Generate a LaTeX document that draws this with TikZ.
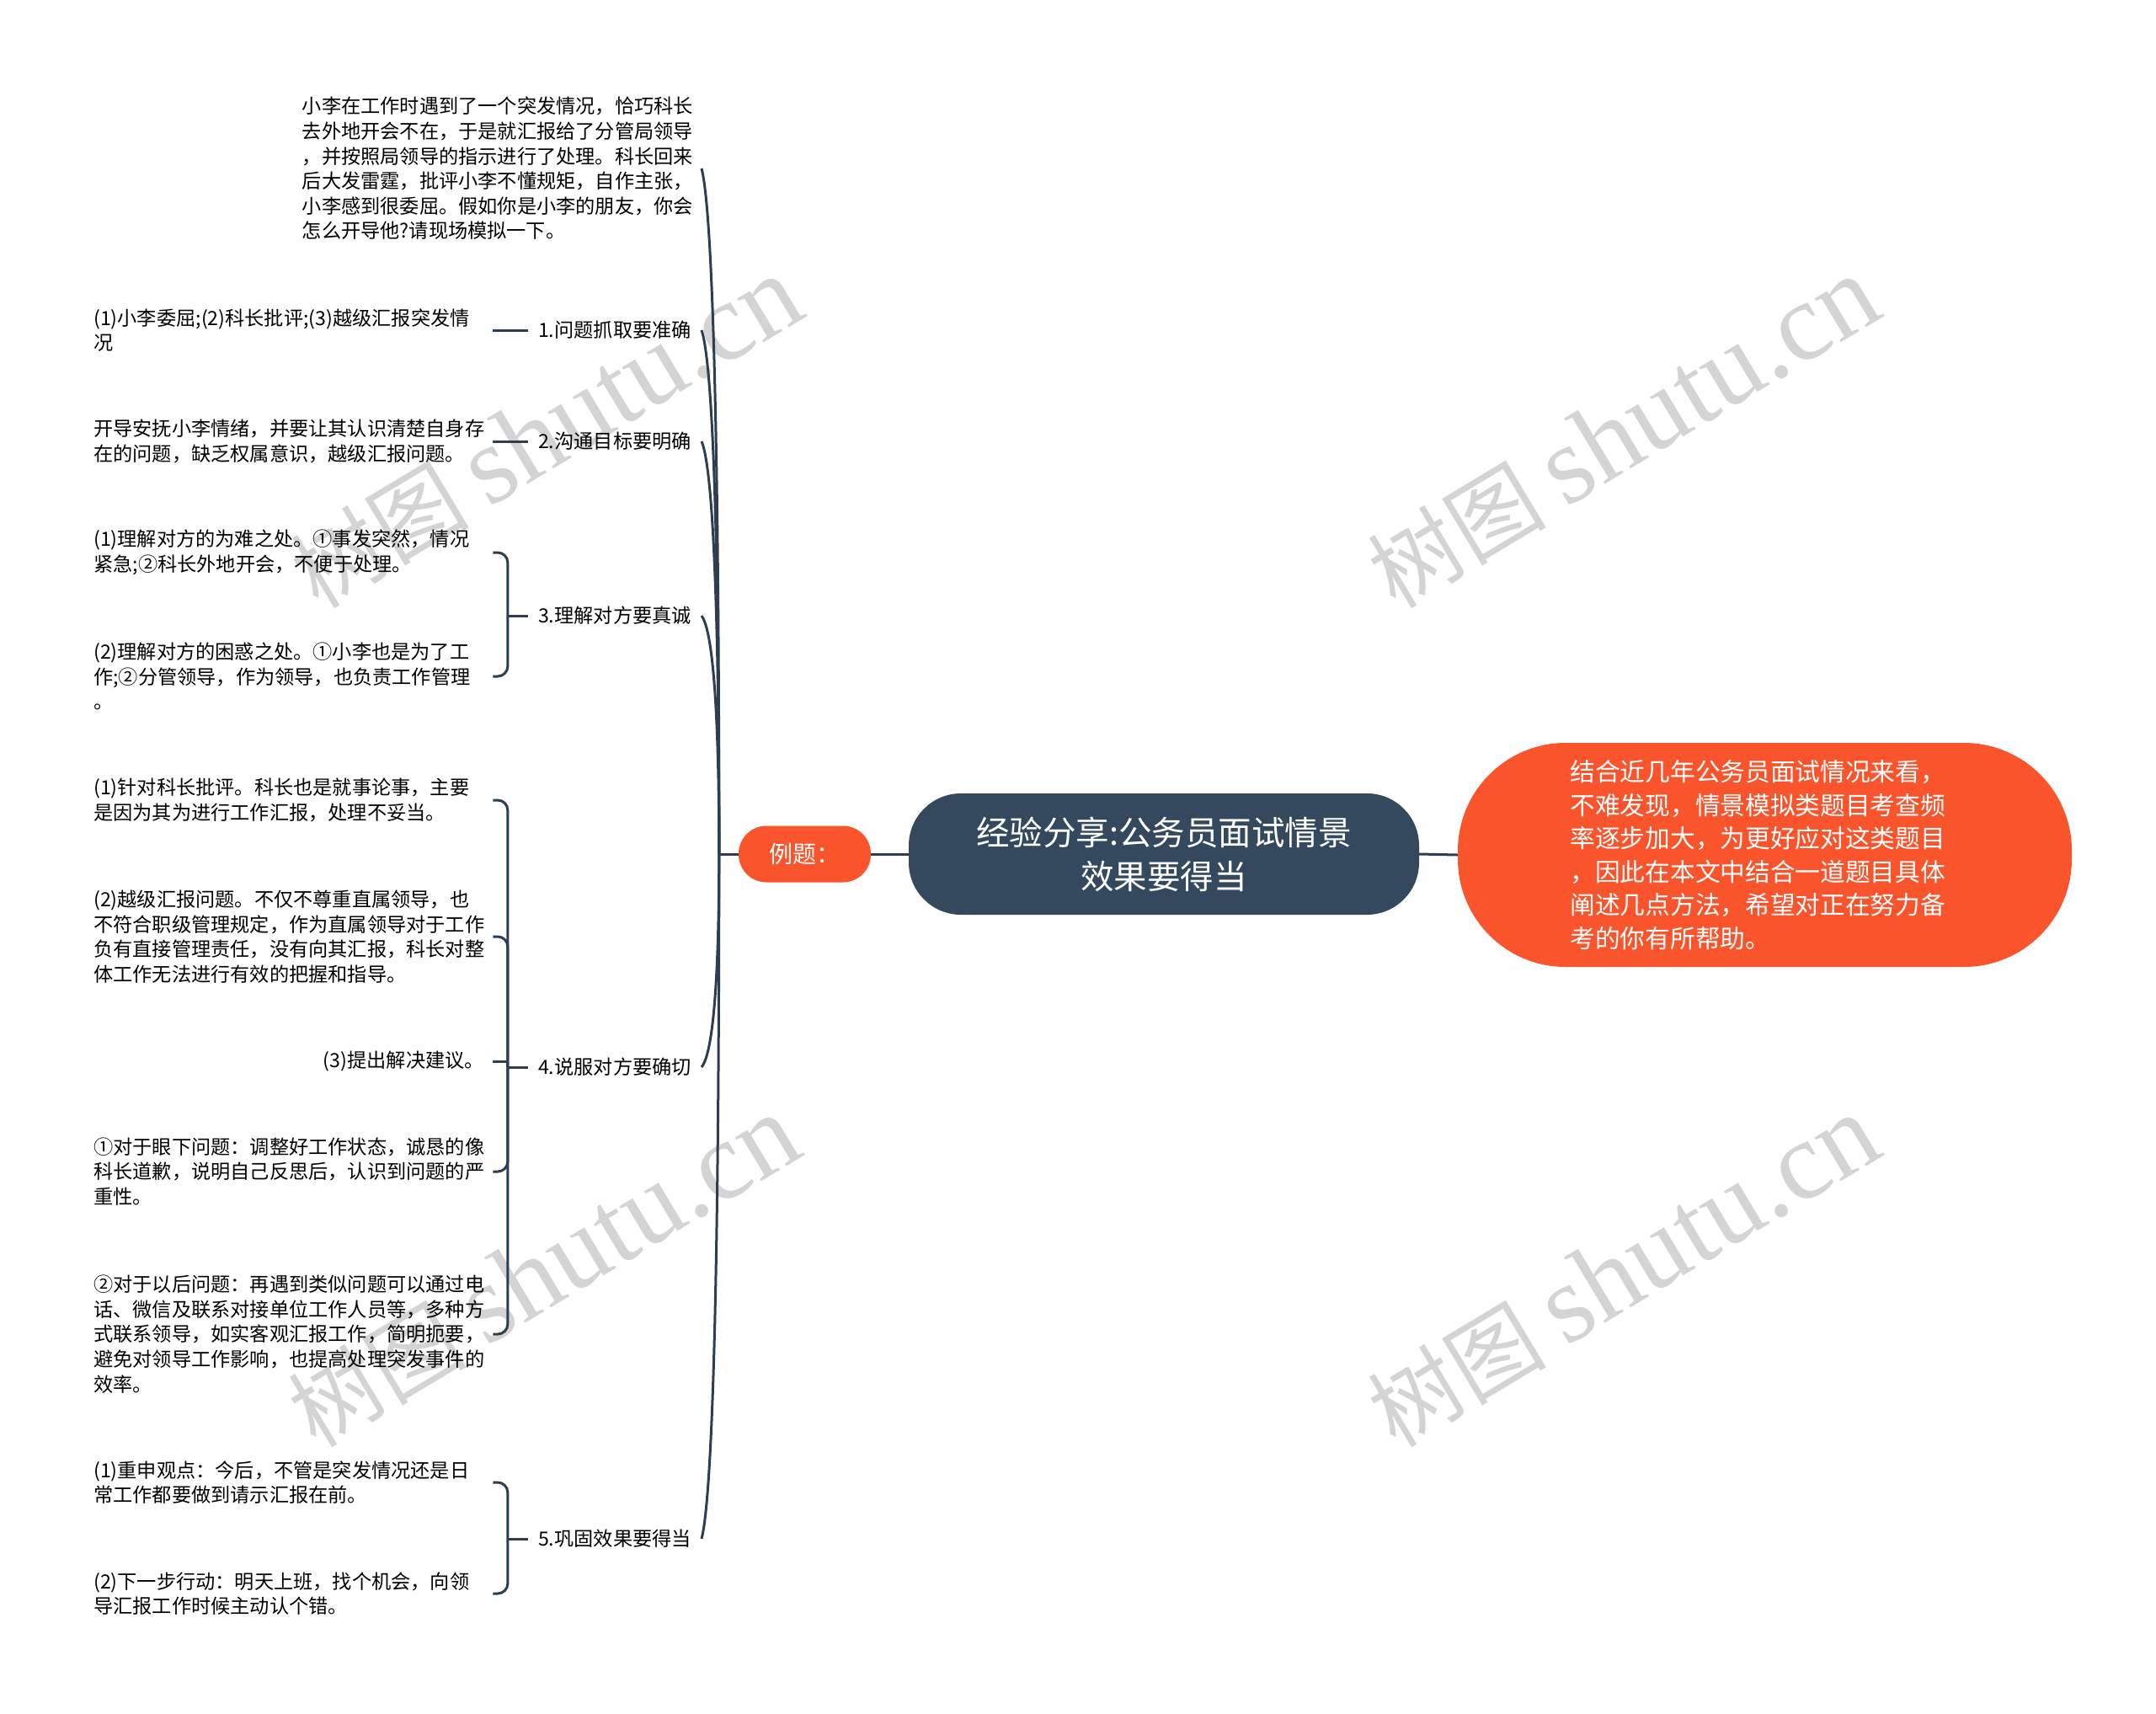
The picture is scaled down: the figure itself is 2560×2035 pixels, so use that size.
\documentclass[tikz,border=0pt]{standalone}
\usepackage{fontspec}
\setmainfont{Noto Sans CJK SC}
\newfontfamily\fuenteMarca{Liberation Serif}
\usetikzlibrary{positioning, calc}
\definecolor{colorCentral}{HTML}{34495E}
\definecolor{colorAcento}{HTML}{F9542C}
\definecolor{colorLinea}{HTML}{2C3E50}
\definecolor{grisMarca}{HTML}{D4D4D4}

\begin{document}
\begin{tikzpicture}[x=1pt, y=-1pt,
        conn/.style={draw=colorLinea, line width=3pt},
        raiz/.style={fill=colorCentral, text=white, rounded corners=62pt, minimum width=606pt,
            minimum height=144pt, align=center, font=\fontsize{39.5}{52}\selectfont},
        resumen/.style={fill=colorAcento, text=white, rounded corners=128pt, minimum width=729pt,
            minimum height=266pt, text width=462pt, align=left, font=\fontsize{29.7}{39.5}\selectfont},
        ejemplo/.style={fill=colorAcento, text=white, rounded corners=33pt, minimum width=157pt,
            minimum height=67pt, font=\fontsize{28}{32}\selectfont},
        rama/.style={anchor=east, inner xsep=12pt, font=\fontsize{23.2}{29.6}\selectfont},
        hoja/.style={anchor=west, inner xsep=10pt, text width=464pt, align=left, font=\fontsize{23.2}{29.6}\selectfont},
        corta/.style={anchor=east, inner xsep=10pt, font=\fontsize{23.2}{29.6}\selectfont},
        marca/.style={text=grisMarca, rotate=31, font=\fontsize{106}{116}\selectfont}]
        \fill[white] (0,0) rectangle (2560,2035);
        \useasboundingbox (0,0) rectangle (2560,2035);
        \foreach \px/\py [count=\i] in {648/514, 1927/514, 645/1510, 1927/1510}
            \node[marca] (marca\i) at (\px,\py) {树图 {\fuenteMarca\fontsize{132}{136}\selectfont shutu.cn}};

        % centro y resumen
        \node[raiz] (root) at (1382,1014) {经验分享:公务员面试情景\\效果要得当};
        \node[resumen] (res) at (2095.5,1015) {结合近几年公务员面试情况来看，\\不难发现，情景模拟类题目考查频\\率逐步加大，为更好应对这类题目\\，因此在本文中结合一道题目具体\\阐述几点方法，希望对正在努力备\\考的你有所帮助。};
        \node[ejemplo] (ex) at (955.5,1014) {例题：};
        \coordinate (hub) at ([xshift=-23pt]ex.west);

        % ramas
        \node[rama, text width=462pt, align=left] (q) at (833,200) {小李在工作时遇到了一个突发情况，恰巧科长\\去外地开会不在，于是就汇报给了分管局领导\\，并按照局领导的指示进行了处理。科长回来\\后大发雷霆，批评小李不懂规矩，自作主张，\\小李感到很委屈。假如你是小李的朋友，你会\\怎么开导他?请现场模拟一下。};
        \node[rama] (b1) at (833,392)  {1.问题抓取要准确};
        \node[rama] (b2) at (833,524)  {2.沟通目标要明确};
        \node[rama] (b3) at (833,731)  {3.理解对方要真诚};
        \node[rama] (b4) at (833,1267) {4.说服对方要确切};
        \node[rama] (b5) at (833,1827) {5.巩固效果要得当};

        % hojas
        \node[hoja] (c1)  at (101,392)  {(1)小李委屈;(2)科长批评;(3)越级汇报突发情\\况};
        \node[hoja] (c2)  at (101,524)  {开导安抚小李情绪，并要让其认识清楚自身存\\在的问题，缺乏权属意识，越级汇报问题。};
        \node[hoja] (c3a) at (101,656)  {(1)理解对方的为难之处。①事发突然，情况\\紧急;②科长外地开会，不便于处理。};
        \node[hoja] (c3b) at (101,803)  {(2)理解对方的困惑之处。①小李也是为了工\\作;②分管领导，作为领导，也负责工作管理\\。};
        \node[hoja] (c4a) at (101,950)  {(1)针对科长批评。科长也是就事论事，主要\\是因为其为进行工作汇报，处理不妥当。};
        \node[hoja] (c4b) at (101,1112) {(2)越级汇报问题。不仅不尊重直属领导，也\\不符合职级管理规定，作为直属领导对于工作\\负有直接管理责任，没有向其汇报，科长对整\\体工作无法进行有效的把握和指导。};
        \node[corta] (c4c) at (585,1260) {(3)提出解决建议。};
        \node[hoja] (c4d) at (101,1391) {①对于眼下问题：调整好工作状态，诚恳的像\\科长道歉，说明自己反思后，认识到问题的严\\重性。};
        \node[hoja] (c4e) at (101,1584) {②对于以后问题：再遇到类似问题可以通过电\\话、微信及联系对接单位工作人员等，多种方\\式联系领导，如实客观汇报工作，简明扼要，\\避免对领导工作影响，也提高处理突发事件的\\效率。};
        \node[hoja] (c5a) at (101,1760) {(1)重申观点：今后，不管是突发情况还是日\\常工作都要做到请示汇报在前。};
        \node[hoja] (c5b) at (101,1892) {(2)下一步行动：明天上班，找个机会，向领\\导汇报工作时候主动认个错。};

        % conectores
        \draw[conn] (ex.east) -- (root.west);
        \draw[conn] (root.east) -- (res.west);
        \draw[conn] (ex.west) -- (hub);
        \foreach \k in {q,b1,b2,b3,b4,b5}
            \draw[conn] let \p1=(hub), \p2=(\k.east) in
                (hub) .. controls (\x1,{\y2+0.3*(\y1-\y2)}) and ({\x1-10pt},{\y2+0.05*(\y1-\y2)}) .. (\k.east);
        \draw[conn] (b1.west) -- (c1.east);
        \draw[conn] (b2.west) -- (c2.east);
        \foreach \r/\hs in {b3/{c3a,c3b}, b4/{c4a,c4b,c4d,c4e}, b5/{c5a,c5b}} {
            \coordinate (f\r) at ([xshift=-24pt]\r.west);
            \draw[conn] (\r.west) -- (f\r);
            \foreach \h in \hs \draw[conn, rounded corners=12pt] (f\r) |- (\h.east);
        }
        \draw[conn] (fb4) |- (c4c.east);
    \end{tikzpicture}
\end{document}
